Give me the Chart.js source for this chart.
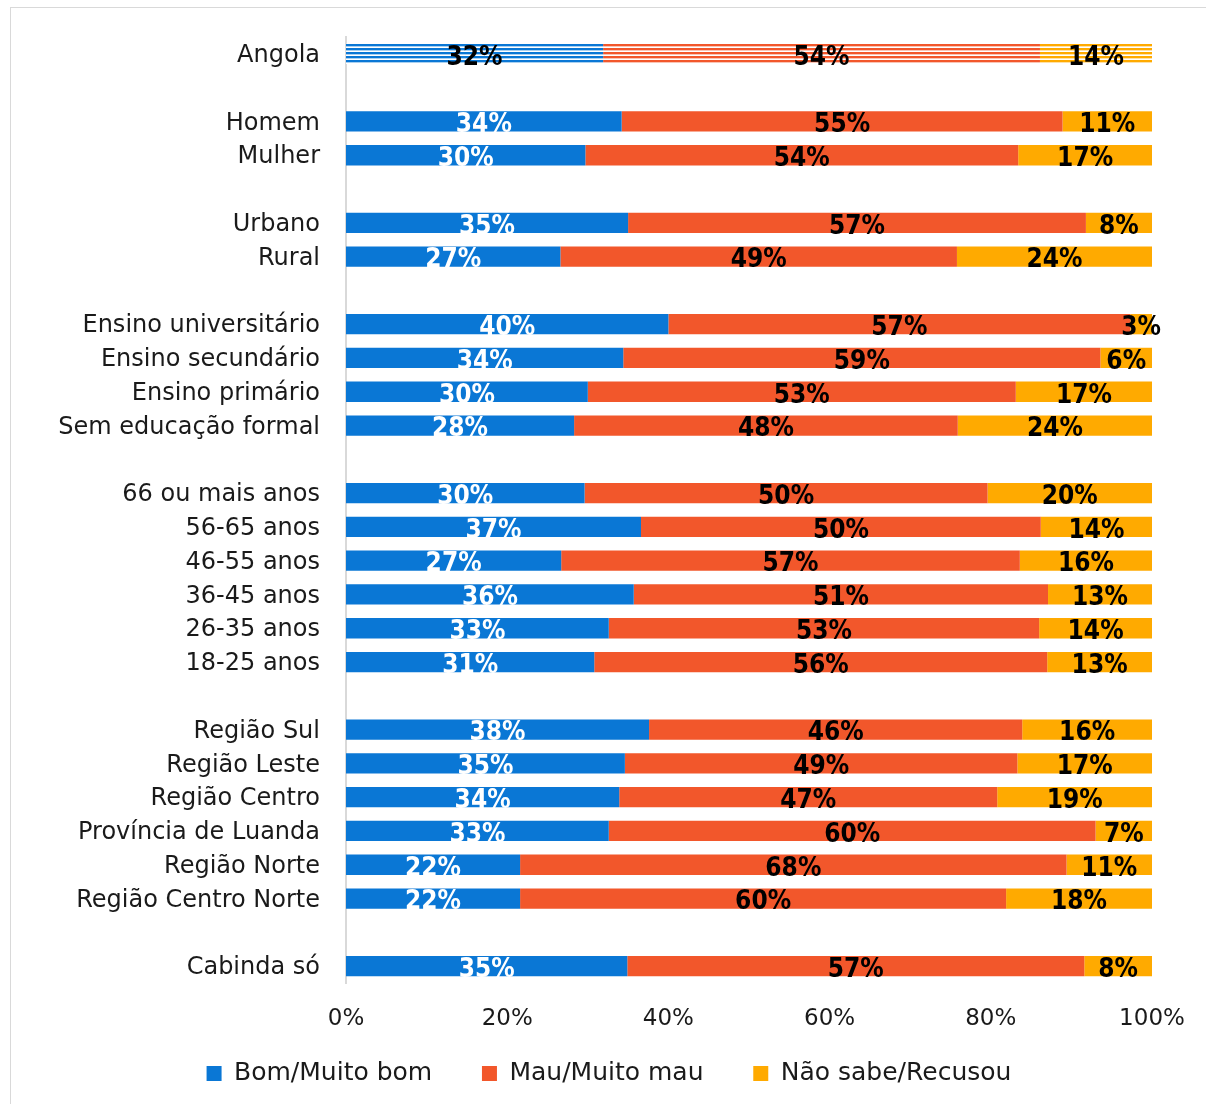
<!DOCTYPE html>
<html>
<head>
<meta charset="utf-8">
<script src="https://cdn.jsdelivr.net/npm/chart.js@4.4.0/dist/chart.umd.min.js"></script>
<style>
  body { margin: 0; background: #fff; }
  #frame { position: absolute; left: 10px; top: 7px; width: 1200px; height: 1100px; border: 1px solid #d9d9d9; }
  #chart { position: absolute; left: 0; top: 0; }
</style>
</head>
<body>
<div id="frame"><canvas id="chart" width="1196" height="1097"></canvas></div>
<script>
// --- DATA ---
const categories = [
  'Angola', '',
  'Homem', 'Mulher', '',
  'Urbano', 'Rural', '',
  'Ensino universitário', 'Ensino secundário', 'Ensino primário', 'Sem educação formal', '',
  '66 ou mais anos', '56-65 anos', '46-55 anos', '36-45 anos', '26-35 anos', '18-25 anos', '',
  'Região Sul', 'Região Leste', 'Região Centro', 'Província de Luanda', 'Região Norte', 'Região Centro Norte', '',
  'Cabinda só'
];
const bomValues = [
  31.9, null,
  34.2, 29.7, null,
  35.0, 26.6, null,
  40.0, 34.4, 30.0, 28.3, null,
  29.6, 36.6, 26.7, 35.7, 32.6, 30.8, null,
  37.6, 34.6, 33.9, 32.6, 21.6, 21.6, null,
  34.9
];
const mauValues = [
  54.2, null,
  54.7, 53.7, null,
  56.8, 49.2, null,
  57.3, 59.2, 53.1, 47.6, null,
  50.0, 49.6, 56.9, 51.4, 53.4, 56.2, null,
  46.3, 48.7, 46.9, 60.4, 67.8, 60.3, null,
  56.7
];
const naoSabeValues = [
  13.9, null,
  11.1, 16.6, null,
  8.2, 24.2, null,
  2.7, 6.4, 16.9, 24.1, null,
  20.4, 13.8, 16.4, 12.9, 14.0, 13.0, null,
  16.1, 16.7, 19.2, 7.0, 10.6, 18.1, null,
  8.4
];
const seriesNames = ['Bom/Muito bom', 'Mau/Muito mau', 'Não sabe/Recusou'];
const xTicks = [0, 20, 40, 60, 80, 100];

// --- STYLE ---
const colors = ['#0A77D5', '#F2572B', '#FFAA00'];
const labelFont = '"DejaVu Sans", sans-serif';
const textColor = '#1a1a1a';
const canvasEl = document.getElementById('chart');
const ctx = canvasEl.getContext('2d');

// horizontal stripes used on the Angola total row
function stripePattern(color) {
  const c = document.createElement('canvas');
  c.width = 8; c.height = 4;
  const g = c.getContext('2d');
  g.fillStyle = '#fff';
  g.fillRect(0, 0, 8, 4);
  g.fillStyle = color;
  g.fillRect(0, 0, 8, 2);
  g.globalAlpha = 0.35;
  g.fillRect(0, 2, 8, 1);
  return ctx.createPattern(c, 'repeat');
}

function makeDataset(name, values, i) {
  const pattern = stripePattern(colors[i]);
  return {
    label: name,
    data: values,
    backgroundColor: (c) => c.dataIndex === 0 ? pattern : colors[i],
    borderWidth: 0,
    barPercentage: 0.6,
    categoryPercentage: 1.0
  };
}

// percent labels inside each segment
const segmentLabels = {
  id: 'segmentLabels',
  afterDatasetsDraw(chart) {
    const c = chart.ctx;
    c.save();
    c.font = 'bold 26px "DejaVu Sans Condensed", "DejaVu Sans", sans-serif';
    c.textAlign = 'center';
    c.textBaseline = 'middle';
    chart.data.datasets.forEach((ds, di) => {
      const meta = chart.getDatasetMeta(di);
      meta.data.forEach((bar, i) => {
        const v = ds.data[i];
        if (v == null) return;
        const p = bar.getProps(['x', 'base', 'y'], true);
        c.fillStyle = (di === 0 && i !== 0) ? '#fff' : '#000';
        c.fillText(Math.round(v) + '%', (p.x + p.base) / 2, p.y + 4);
      });
    });
    c.restore();
  }
};

new Chart(ctx, {
  type: 'bar',
  data: {
    labels: categories,
    datasets: [
      makeDataset(seriesNames[0], bomValues, 0),
      makeDataset(seriesNames[1], mauValues, 1),
      makeDataset(seriesNames[2], naoSabeValues, 2)
    ]
  },
  options: {
    indexAxis: 'y',
    responsive: false,
    animation: false,
    layout: { padding: { top: 29, right: 0, left: 0, bottom: 9 } },
    scales: {
      x: {
        stacked: true,
        min: 0,
        max: 100,
        afterBuildTicks: (scale) => { scale.ticks = xTicks.map(v => ({ value: v })); },
        afterFit: (scale) => { scale.height = 68; scale.paddingLeft = 0; scale.paddingRight = 0; },
        grid: { display: false, drawTicks: false },
        border: { display: false },
        ticks: {
          padding: 22,
          color: textColor,
          font: { family: labelFont, size: 23 },
          callback: (v) => v + '%'
        }
      },
      y: {
        stacked: true,
        afterFit: (scale) => { scale.width = 335; scale.paddingTop = 0; scale.paddingBottom = 0; },
        grid: { display: false, drawTicks: false },
        border: { display: true, color: '#d9d9d9', width: 2 },
        ticks: {
          padding: 26,
          labelOffset: 2,
          autoSkip: false,
          color: textColor,
          font: { family: labelFont, size: 24 }
        }
      },
      // empty right-hand margin, so the legend centres on the whole frame
      yRight: {
        type: 'category',
        position: 'right',
        afterFit: (scale) => { scale.width = 55; scale.paddingTop = 0; scale.paddingBottom = 0; },
        grid: { display: false, drawTicks: false },
        border: { display: false },
        ticks: { display: false }
      }
    },
    plugins: {
      tooltip: { enabled: false },
      legend: {
        position: 'bottom',
        labels: {
          boxWidth: 15,
          boxHeight: 15,
          padding: 10,
          color: textColor,
          font: { family: labelFont, size: 25 },
          // solid swatches; trailing spaces widen the gap between items
          generateLabels: () => seriesNames.map((name, i) => ({
            text: i < seriesNames.length - 1 ? name + '     ' : name,
            fillStyle: colors[i],
            strokeStyle: colors[i],
            lineWidth: 0,
            hidden: false,
            datasetIndex: i,
            fontColor: textColor
          }))
        }
      }
    }
  },
  plugins: [segmentLabels]
});
</script>
</body>
</html>
